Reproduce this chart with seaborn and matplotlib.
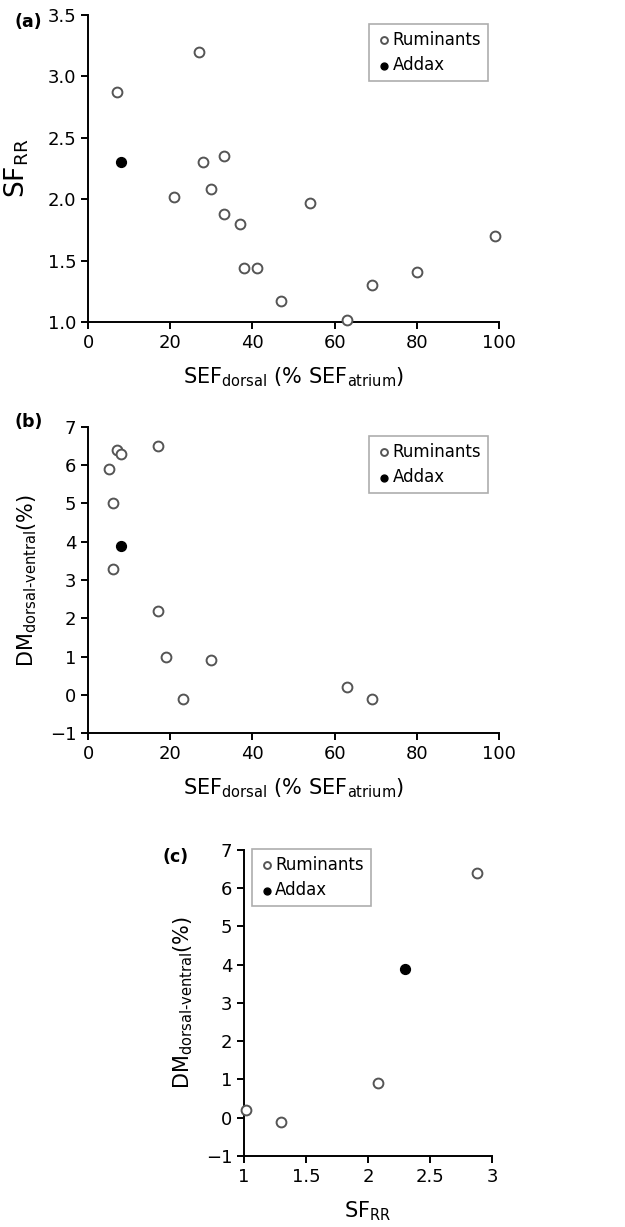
import numpy as np
import pandas as pd
import matplotlib
matplotlib.use('Agg')
import matplotlib.pyplot as plt
from matplotlib.ticker import FormatStrFormatter
import seaborn as sns

sns.set_style('ticks')
plt.rcParams['font.family'] = ['DejaVu Sans']
plt.rcParams['mathtext.default'] = 'regular'
plt.rcParams['text.color'] = 'black'
plt.rcParams['axes.labelcolor'] = 'black'

# (a) SEF dorsal vs SF RR
a_rum_x = [7, 27, 28, 33, 21, 30, 33, 37, 54, 38, 41, 47, 63, 69, 80, 99]
a_rum_y = [2.87, 3.20, 2.30, 2.35, 2.02, 2.08, 1.88, 1.80, 1.97, 1.44, 1.44, 1.17, 1.02, 1.30, 1.41, 1.70]
a_add_x = [8]
a_add_y = [2.30]

# (b) SEF dorsal vs DM dorsal-ventral
b_rum_x = [7, 8, 5, 17, 6, 6, 17, 19, 30, 23, 63, 69]
b_rum_y = [6.4, 6.3, 5.9, 6.5, 5.0, 3.3, 2.2, 1.0, 0.9, -0.1, 0.2, -0.1]
b_add_x = [8]
b_add_y = [3.9]

# (c) SF RR vs DM dorsal-ventral
c_rum_x = [1.02, 1.30, 2.08, 2.88]
c_rum_y = [0.2, -0.1, 0.9, 6.4]
c_add_x = [2.30]
c_add_y = [3.9]

fig = plt.figure(figsize=(6.25, 12.27), dpi=100)
ax_a = fig.add_axes([0.1408, 0.7376, 0.6576, 0.2502])
ax_b = fig.add_axes([0.1408, 0.4026, 0.6576, 0.2494])
ax_c = fig.add_axes([0.3904, 0.0579, 0.3968, 0.2494])

sef_lab = r'SEF$_{dorsal}$ (% SEF$_{atrium}$)'
dm_lab = r'DM$_{dorsal\text{-}ventral}$(%)'


def draw(ax, rx, ry, adx, ady):
    sns.scatterplot(x=rx, y=ry, ax=ax, color='white', edgecolor='#555555',
                    linewidth=1.4, s=50, label='Ruminants', clip_on=False, zorder=3)
    sns.scatterplot(x=adx, y=ady, ax=ax, color='black', edgecolor='black',
                    linewidth=1.0, s=50, label='Addax', clip_on=False, zorder=3)
    sns.despine(ax=ax)
    for s in ['left', 'bottom']:
        ax.spines[s].set_linewidth(1.4)
        ax.spines[s].set_color('black')
    ax.tick_params(direction='out', length=5, width=1.4, labelsize=13, colors='black')


draw(ax_a, a_rum_x, a_rum_y, a_add_x, a_add_y)
ax_a.set_xlim(0, 100)
ax_a.set_ylim(1.0, 3.5)
ax_a.set_xticks(np.arange(0, 101, 20))
ax_a.set_yticks(np.arange(1.0, 3.51, 0.5))
ax_a.yaxis.set_major_formatter(FormatStrFormatter('%.1f'))
ax_a.set_xlabel(sef_lab, fontsize=15, labelpad=10)
ax_a.set_ylabel(r'SF$_{RR}$', fontsize=19, labelpad=12)

draw(ax_b, b_rum_x, b_rum_y, b_add_x, b_add_y)
ax_b.set_xlim(0, 100)
ax_b.set_ylim(-1, 7)
ax_b.set_xticks(np.arange(0, 101, 20))
ax_b.set_yticks(np.arange(-1, 8, 1))
ax_b.set_xlabel(sef_lab, fontsize=15, labelpad=10)
ax_b.set_ylabel(dm_lab, fontsize=15, labelpad=8)

draw(ax_c, c_rum_x, c_rum_y, c_add_x, c_add_y)
ax_c.set_xlim(1, 3)
ax_c.set_ylim(-1, 7)
ax_c.set_xticks([1, 1.5, 2, 2.5, 3])
ax_c.set_xticklabels(['1', '1.5', '2', '2.5', '3'])
ax_c.set_yticks(np.arange(-1, 8, 1))
ax_c.set_xlabel(r'SF$_{RR}$', fontsize=15, labelpad=10)
ax_c.set_ylabel(dm_lab, fontsize=15, labelpad=8)

leg_pos = {ax_a: (0.684, 0.971), ax_b: (0.684, 0.971), ax_c: (0.032, 1.003)}
for ax, (lx, ly) in leg_pos.items():
    leg = ax.legend(loc='upper left', bbox_to_anchor=(lx, ly), fontsize=12,
                    frameon=True, fancybox=False, markerscale=0.7,
                    handletextpad=0.0, handlelength=1.0, borderpad=0.4,
                    labelspacing=0.45, borderaxespad=0)
    leg.get_frame().set_edgecolor('#999999')
    leg.get_frame().set_linewidth(1.2)

fig.text(15 / 625, 1 - 22 / 1227, '(a)', fontsize=12.5, fontweight='bold', va='center')
fig.text(15 / 625, 1 - 422 / 1227, '(b)', fontsize=12.5, fontweight='bold', va='center')
fig.text(162 / 625, 1 - 857 / 1227, '(c)', fontsize=12.5, fontweight='bold', va='center')

fig.savefig('out.png', dpi=100)
